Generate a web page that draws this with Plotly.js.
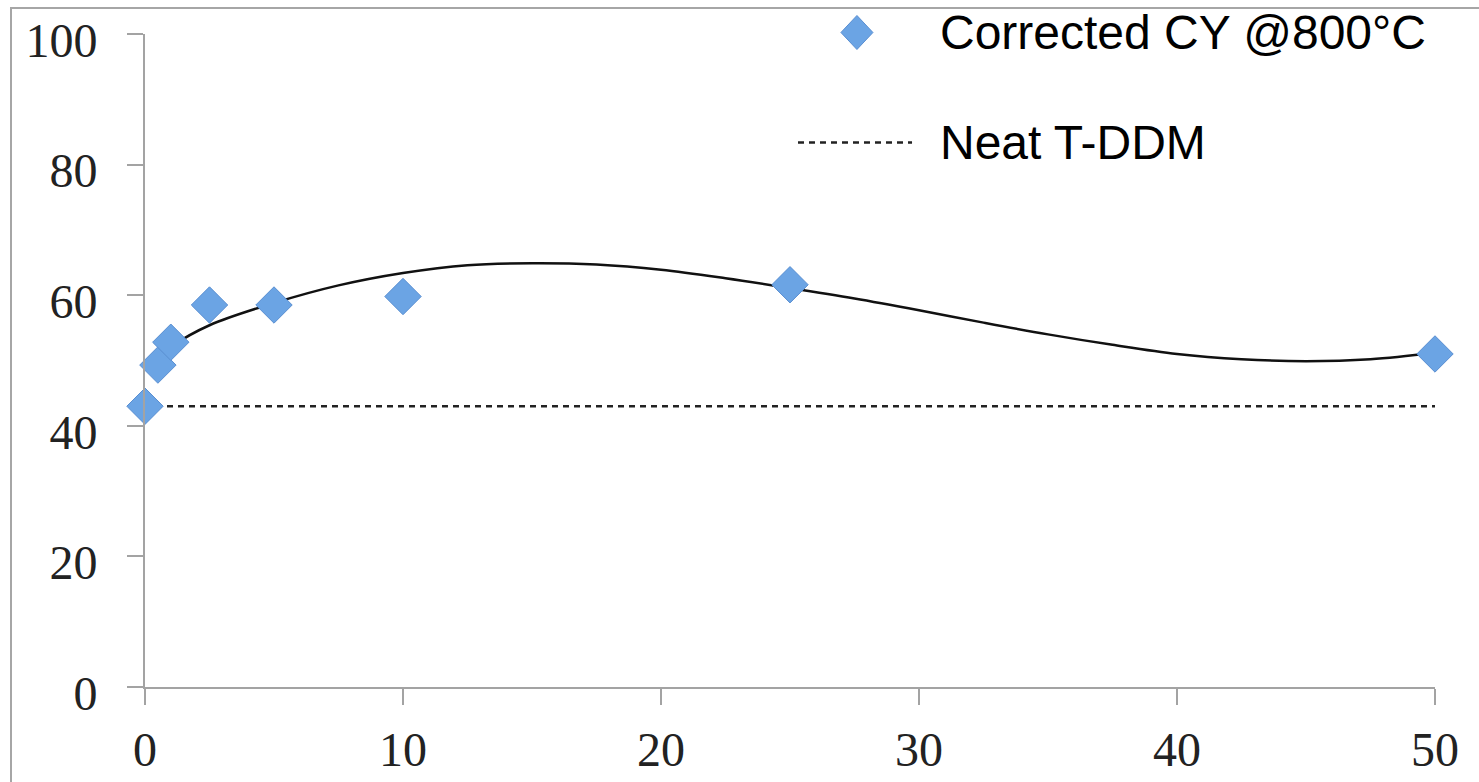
<!DOCTYPE html>
<html>
<head>
<meta charset="utf-8">
<script src="https://cdn.plot.ly/plotly-3.0.1.min.js"></script>
<style>
html,body{margin:0;padding:0;background:#fff;overflow:hidden;}
#chart{width:1479px;height:782px;}
#frame{position:absolute;left:10px;top:7px;width:2000px;height:2000px;border:2px solid #a6a6a6;pointer-events:none;}
</style>
</head>
<body>
<div id="chart"></div>
<div id="frame"></div>
<script>
// Measured data points
const cyX = [0, 0.5, 1, 2.5, 5, 10, 25, 50];
const cyY = [43, 49.3, 52.8, 58.5, 58.5, 59.8, 61.6, 51.0];
// Neat T-DDM reference level
const neatX = [0, 50];
const neatY = [43, 43];
// Trend curve
const trendX = [0, 1, 2.5, 5, 7.5, 10, 12.5, 15, 17.5, 20, 22.5, 25, 27.5, 30, 32.5, 35, 37.5, 40, 42.5, 45, 47.5, 50];
const trendY = [48.9, 52.1, 55.4, 58.8, 61.5, 63.4, 64.6, 64.9, 64.7, 63.9, 62.6, 61.1, 59.5, 57.7, 55.8, 54.0, 52.4, 51.0, 50.2, 49.9, 50.2, 51.2];
const xTicks = [0, 10, 20, 30, 40, 50];
const yTicks = [0, 20, 40, 60, 80, 100];
const seriesNames = ['Corrected CY @800°C', 'Neat T-DDM'];

const markerColor = '#6ba4e4';
const markerLine = '#5a8fd2';
const dashPattern = '6px,5px';

const traces = [
  {
    x: trendX, y: trendY, type: 'scatter', mode: 'lines',
    line: {color: '#111', width: 2.5, shape: 'spline'},
    showlegend: false, hoverinfo: 'skip', cliponaxis: false
  },
  {
    x: neatX, y: neatY, type: 'scatter', mode: 'lines',
    name: seriesNames[1], showlegend: false,
    line: {color: '#222', width: 2.5, dash: dashPattern},
    cliponaxis: false
  },
  {
    x: cyX, y: cyY, type: 'scatter', mode: 'markers',
    name: seriesNames[0], showlegend: false,
    marker: {symbol: 'diamond', size: 28, color: markerColor, line: {color: markerLine, width: 1}},
    cliponaxis: false
  }
];

const axisCommon = {
  showgrid: false, zeroline: false, showline: true,
  linecolor: '#a3a3a3', linewidth: 2,
  ticks: 'outside', ticklen: 16, tickwidth: 2, tickcolor: '#a3a3a3',
  tickfont: {family: 'Liberation Serif', size: 48, color: '#222'}
};

// Legend drawn in paper coordinates (plot area: 145..1435 px wide, 33.5..687 px tall)
const legendFont = {family: 'Liberation Sans', size: 48, color: '#000'};

const layout = {
  width: 1479, height: 782,
  margin: {l: 145, r: 44, t: 33.5, b: 95, autoexpand: false},
  paper_bgcolor: '#fff', plot_bgcolor: '#fff',
  xaxis: Object.assign({}, axisCommon, {
    range: [0, 50], tickmode: 'array', tickvals: xTicks, ticktext: xTicks.map(String),
    ticklabelstandoff: 3
  }),
  yaxis: Object.assign({}, axisCommon, {
    range: [0, 100], tickmode: 'array', tickvals: yTicks, ticktext: yTicks.map(String),
    ticklabelstandoff: 20, ticklabelshift: 6
  }),
  showlegend: false,
  shapes: [
    {
      type: 'path', xref: 'paper', yref: 'paper',
      xsizemode: 'pixel', ysizemode: 'pixel',
      xanchor: 0.5519, yanchor: 1.0023,
      path: 'M -16 0 L 0 17 L 16 0 L 0 -17 Z',
      fillcolor: markerColor, line: {color: markerLine, width: 1}
    },
    {
      type: 'line', xref: 'paper', yref: 'paper',
      x0: 0.5062, x1: 0.5946, y0: 0.834, y1: 0.834,
      line: {color: '#222', width: 2.5, dash: dashPattern}
    }
  ],
  annotations: [
    {
      xref: 'paper', yref: 'paper', x: 0.6147, y: 1.0023,
      xanchor: 'left', yanchor: 'middle', showarrow: false,
      text: seriesNames[0], font: legendFont
    },
    {
      xref: 'paper', yref: 'paper', x: 0.6147, y: 0.834,
      xanchor: 'left', yanchor: 'middle', showarrow: false,
      text: seriesNames[1], font: legendFont
    }
  ]
};

Plotly.newPlot('chart', traces, layout, {displayModeBar: false, staticPlot: true});
</script>
</body>
</html>
